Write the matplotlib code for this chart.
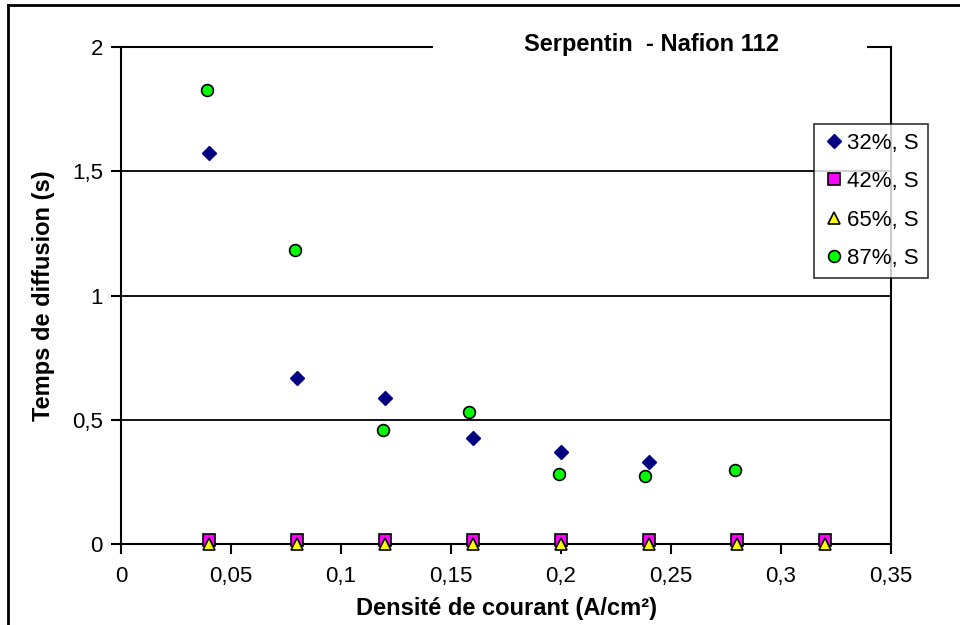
import matplotlib
matplotlib.use('Agg')
import matplotlib.pyplot as plt
from matplotlib.patches import Rectangle

plt.rcParams['font.family'] = ['Liberation Sans', 'DejaVu Sans']

# Data
x_32 = [0.04, 0.08, 0.12, 0.16, 0.20, 0.24]
y_32 = [1.575, 0.667, 0.586, 0.427, 0.369, 0.330]

x_42 = [0.04, 0.08, 0.12, 0.16, 0.20, 0.24, 0.28, 0.32]
y_42 = [0.015, 0.015, 0.015, 0.015, 0.015, 0.015, 0.015, 0.015]

x_65 = [0.04, 0.08, 0.12, 0.16, 0.20, 0.24, 0.28, 0.32]
y_65 = [0.0, 0.0, 0.0, 0.0, 0.0, 0.0, 0.0, 0.0]

x_87 = [0.039, 0.079, 0.119, 0.158, 0.199, 0.238, 0.279]
y_87 = [1.826, 1.183, 0.460, 0.532, 0.283, 0.275, 0.298]

series_labels = ['32%, S', '42%, S', '65%, S', '87%, S']
xtick_vals = [0, 0.05, 0.1, 0.15, 0.2, 0.25, 0.3, 0.35]
xtick_labels = ['0', '0,05', '0,1', '0,15', '0,2', '0,25', '0,3', '0,35']
ytick_vals = [0, 0.5, 1, 1.5, 2]
ytick_labels = ['0', '0,5', '1', '1,5', '2']

fig = plt.figure(figsize=(9.6, 6.25), dpi=100)
ax = fig.add_axes([121 / 960, 81 / 625, 770 / 960, 497 / 625])

ax.plot(x_32, y_32, linestyle='none', marker='D', markersize=7.5,
        color='#000080', markeredgecolor='#000080', label=series_labels[0], zorder=4, clip_on=False)
ax.plot(x_42, y_42, linestyle='none', marker='s', markersize=8,
        color='#FF00FF', markeredgecolor='black', markeredgewidth=1.2, label=series_labels[1], zorder=4, clip_on=False)
ax.plot(x_65, y_65, linestyle='none', marker='^', markersize=9,
        color='#FFFF00', markeredgecolor='black', markeredgewidth=1.2, label=series_labels[2], zorder=5, clip_on=False)
ax.plot(x_87, y_87, linestyle='none', marker='o', markersize=8.5,
        color='#00FF00', markeredgecolor='black', markeredgewidth=1.2, label=series_labels[3], zorder=4, clip_on=False)

ax.set_xlim(0, 0.35)
ax.set_ylim(0, 2)
ax.set_xticks(xtick_vals)
ax.set_xticklabels(xtick_labels)
ax.set_yticks(ytick_vals)
ax.set_yticklabels(ytick_labels)
ax.tick_params(axis='both', direction='out', length=7, width=1.5, labelsize=16, pad=6)
ax.tick_params(axis='x', pad=9)

ax.grid(axis='y', color='black', linewidth=1.3)
ax.set_axisbelow(True)
for sp in ax.spines.values():
    sp.set_linewidth(1.5)

ax.set_xlabel('Densité de courant (A/cm²)', fontsize=17, fontweight='bold', labelpad=7)
ax.set_ylabel('Temps de diffusion (s)', fontsize=17, fontweight='bold', labelpad=12)

# title box covering the top gridline
fig.add_artist(Rectangle((433 / 960, 1 - 62 / 625), 434 / 960, 34 / 625,
                         transform=fig.transFigure, facecolor='white', edgecolor='none', zorder=3))
fig.text(651 / 960, 1 - 45 / 625, 'Serpentin  - Nafion 112', fontsize=17, fontweight='bold',
         ha='center', va='center', zorder=4)

leg = ax.legend(loc='upper left', bbox_to_anchor=(0.9, 0.845), borderaxespad=0,
                fontsize=16, frameon=True, fancybox=False, edgecolor='black',
                handletextpad=0.1, handlelength=1.0, borderpad=0.4, labelspacing=0.78)
leg.get_frame().set_linewidth(1.2)
leg.set_zorder(10)

# outer chart border (top and left visible)
fig.add_artist(plt.Line2D([8 / 960, 8 / 960], [0, 1 - 5 / 625], transform=fig.transFigure,
                          color='black', linewidth=2))
fig.add_artist(plt.Line2D([8 / 960, 1], [1 - 5 / 625, 1 - 5 / 625], transform=fig.transFigure,
                          color='black', linewidth=2))

fig.savefig('out.png', dpi=100)
